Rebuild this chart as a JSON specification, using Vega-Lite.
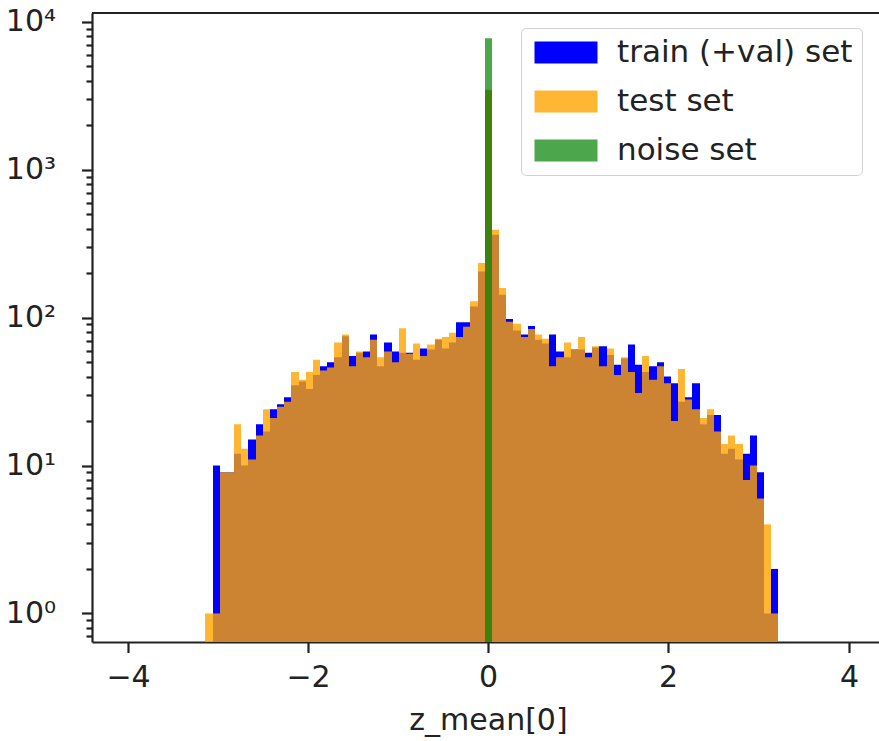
{
"$schema": "https://vega.github.io/schema/vega-lite/v6.json",
"width": 787, "height": 629,
"autosize": {"type": "none"},
"padding": {"left": 92, "top": 13, "right": 0, "bottom": 99},
"background": "white",
"config": {"view": {"stroke": null}, "font": "DejaVu Sans"},
"layer": [
{
"data": {"values": [
{"s":"train (+val) set","a":-3.0608,"b":-2.9813,"n":10},
{"s":"train (+val) set","a":-2.9813,"b":-2.9018,"n":9},
{"s":"train (+val) set","a":-2.9018,"b":-2.8223,"n":9},
{"s":"train (+val) set","a":-2.8223,"b":-2.7428,"n":12},
{"s":"train (+val) set","a":-2.7428,"b":-2.6633,"n":10},
{"s":"train (+val) set","a":-2.6633,"b":-2.5838,"n":15},
{"s":"train (+val) set","a":-2.5838,"b":-2.5043,"n":19},
{"s":"train (+val) set","a":-2.5043,"b":-2.4248,"n":17},
{"s":"train (+val) set","a":-2.4248,"b":-2.3453,"n":24},
{"s":"train (+val) set","a":-2.3453,"b":-2.2658,"n":26},
{"s":"train (+val) set","a":-2.2658,"b":-2.1863,"n":29},
{"s":"train (+val) set","a":-2.1863,"b":-2.1068,"n":35},
{"s":"train (+val) set","a":-2.1068,"b":-2.0273,"n":37},
{"s":"train (+val) set","a":-2.0273,"b":-1.9478,"n":33},
{"s":"train (+val) set","a":-1.9478,"b":-1.8683,"n":41},
{"s":"train (+val) set","a":-1.8683,"b":-1.7888,"n":47},
{"s":"train (+val) set","a":-1.7888,"b":-1.7093,"n":50},
{"s":"train (+val) set","a":-1.7093,"b":-1.6298,"n":54},
{"s":"train (+val) set","a":-1.6298,"b":-1.5503,"n":75},
{"s":"train (+val) set","a":-1.5503,"b":-1.4708,"n":55},
{"s":"train (+val) set","a":-1.4708,"b":-1.3913,"n":58},
{"s":"train (+val) set","a":-1.3913,"b":-1.3118,"n":59},
{"s":"train (+val) set","a":-1.3118,"b":-1.2323,"n":77},
{"s":"train (+val) set","a":-1.2323,"b":-1.1528,"n":47},
{"s":"train (+val) set","a":-1.1528,"b":-1.0733,"n":68},
{"s":"train (+val) set","a":-1.0733,"b":-0.9938,"n":59},
{"s":"train (+val) set","a":-0.9938,"b":-0.9143,"n":58},
{"s":"train (+val) set","a":-0.9143,"b":-0.8348,"n":58},
{"s":"train (+val) set","a":-0.8348,"b":-0.7553,"n":52},
{"s":"train (+val) set","a":-0.7553,"b":-0.6758,"n":62},
{"s":"train (+val) set","a":-0.6758,"b":-0.5963,"n":61},
{"s":"train (+val) set","a":-0.5963,"b":-0.5168,"n":71},
{"s":"train (+val) set","a":-0.5168,"b":-0.4373,"n":62},
{"s":"train (+val) set","a":-0.4373,"b":-0.3578,"n":68},
{"s":"train (+val) set","a":-0.3578,"b":-0.2783,"n":93},
{"s":"train (+val) set","a":-0.2783,"b":-0.1988,"n":93},
{"s":"train (+val) set","a":-0.1988,"b":-0.1193,"n":119},
{"s":"train (+val) set","a":-0.1193,"b":-0.0398,"n":205},
{"s":"train (+val) set","a":-0.0398,"b":0.0398,"n":3450},
{"s":"train (+val) set","a":0.0398,"b":0.1193,"n":364},
{"s":"train (+val) set","a":0.1193,"b":0.1988,"n":143},
{"s":"train (+val) set","a":0.1988,"b":0.2783,"n":98},
{"s":"train (+val) set","a":0.2783,"b":0.3578,"n":82},
{"s":"train (+val) set","a":0.3578,"b":0.4373,"n":77},
{"s":"train (+val) set","a":0.4373,"b":0.5168,"n":88},
{"s":"train (+val) set","a":0.5168,"b":0.5963,"n":71},
{"s":"train (+val) set","a":0.5963,"b":0.6758,"n":67},
{"s":"train (+val) set","a":0.6758,"b":0.7553,"n":77},
{"s":"train (+val) set","a":0.7553,"b":0.8348,"n":59},
{"s":"train (+val) set","a":0.8348,"b":0.9143,"n":54},
{"s":"train (+val) set","a":0.9143,"b":0.9938,"n":61},
{"s":"train (+val) set","a":0.9938,"b":1.0733,"n":61},
{"s":"train (+val) set","a":1.0733,"b":1.1528,"n":58},
{"s":"train (+val) set","a":1.1528,"b":1.2323,"n":63},
{"s":"train (+val) set","a":1.2323,"b":1.3118,"n":64},
{"s":"train (+val) set","a":1.3118,"b":1.3913,"n":56},
{"s":"train (+val) set","a":1.3913,"b":1.4708,"n":48},
{"s":"train (+val) set","a":1.4708,"b":1.5503,"n":53},
{"s":"train (+val) set","a":1.5503,"b":1.6298,"n":66},
{"s":"train (+val) set","a":1.6298,"b":1.7093,"n":48},
{"s":"train (+val) set","a":1.7093,"b":1.7888,"n":43},
{"s":"train (+val) set","a":1.7888,"b":1.8683,"n":47},
{"s":"train (+val) set","a":1.8683,"b":1.9478,"n":50},
{"s":"train (+val) set","a":1.9478,"b":2.0273,"n":40},
{"s":"train (+val) set","a":2.0273,"b":2.1068,"n":36},
{"s":"train (+val) set","a":2.1068,"b":2.1863,"n":27},
{"s":"train (+val) set","a":2.1863,"b":2.2658,"n":29},
{"s":"train (+val) set","a":2.2658,"b":2.3453,"n":36},
{"s":"train (+val) set","a":2.3453,"b":2.4248,"n":19},
{"s":"train (+val) set","a":2.4248,"b":2.5043,"n":22},
{"s":"train (+val) set","a":2.5043,"b":2.5838,"n":22},
{"s":"train (+val) set","a":2.5838,"b":2.6633,"n":12},
{"s":"train (+val) set","a":2.6633,"b":2.7428,"n":13},
{"s":"train (+val) set","a":2.7428,"b":2.8223,"n":11},
{"s":"train (+val) set","a":2.8223,"b":2.9018,"n":12},
{"s":"train (+val) set","a":2.9018,"b":2.9813,"n":16},
{"s":"train (+val) set","a":2.9813,"b":3.0608,"n":9},
{"s":"train (+val) set","a":3.0608,"b":3.1403,"n":1},
{"s":"train (+val) set","a":3.1403,"b":3.2198,"n":2},
{"s":"test set","a":-3.1403,"b":-3.0608,"n":1},
{"s":"test set","a":-3.0608,"b":-2.9813,"n":1},
{"s":"test set","a":-2.9813,"b":-2.9018,"n":9},
{"s":"test set","a":-2.9018,"b":-2.8223,"n":9},
{"s":"test set","a":-2.8223,"b":-2.7428,"n":19},
{"s":"test set","a":-2.7428,"b":-2.6633,"n":13},
{"s":"test set","a":-2.6633,"b":-2.5838,"n":11},
{"s":"test set","a":-2.5838,"b":-2.5043,"n":16},
{"s":"test set","a":-2.5043,"b":-2.4248,"n":24},
{"s":"test set","a":-2.4248,"b":-2.3453,"n":21},
{"s":"test set","a":-2.3453,"b":-2.2658,"n":25},
{"s":"test set","a":-2.2658,"b":-2.1863,"n":27},
{"s":"test set","a":-2.1863,"b":-2.1068,"n":43},
{"s":"test set","a":-2.1068,"b":-2.0273,"n":38},
{"s":"test set","a":-2.0273,"b":-1.9478,"n":43},
{"s":"test set","a":-1.9478,"b":-1.8683,"n":52},
{"s":"test set","a":-1.8683,"b":-1.7888,"n":44},
{"s":"test set","a":-1.7888,"b":-1.7093,"n":46},
{"s":"test set","a":-1.7093,"b":-1.6298,"n":68},
{"s":"test set","a":-1.6298,"b":-1.5503,"n":77},
{"s":"test set","a":-1.5503,"b":-1.4708,"n":47},
{"s":"test set","a":-1.4708,"b":-1.3913,"n":59},
{"s":"test set","a":-1.3913,"b":-1.3118,"n":54},
{"s":"test set","a":-1.3118,"b":-1.2323,"n":71},
{"s":"test set","a":-1.2323,"b":-1.1528,"n":54},
{"s":"test set","a":-1.1528,"b":-1.0733,"n":59},
{"s":"test set","a":-1.0733,"b":-0.9938,"n":50},
{"s":"test set","a":-0.9938,"b":-0.9143,"n":85},
{"s":"test set","a":-0.9143,"b":-0.8348,"n":57},
{"s":"test set","a":-0.8348,"b":-0.7553,"n":67},
{"s":"test set","a":-0.7553,"b":-0.6758,"n":55},
{"s":"test set","a":-0.6758,"b":-0.5963,"n":66},
{"s":"test set","a":-0.5963,"b":-0.5168,"n":72},
{"s":"test set","a":-0.5168,"b":-0.4373,"n":74},
{"s":"test set","a":-0.4373,"b":-0.3578,"n":79},
{"s":"test set","a":-0.3578,"b":-0.2783,"n":74},
{"s":"test set","a":-0.2783,"b":-0.1988,"n":87},
{"s":"test set","a":-0.1988,"b":-0.1193,"n":129},
{"s":"test set","a":-0.1193,"b":-0.0398,"n":234},
{"s":"test set","a":-0.0398,"b":0.0398,"n":3480},
{"s":"test set","a":0.0398,"b":0.1193,"n":393},
{"s":"test set","a":0.1193,"b":0.1988,"n":159},
{"s":"test set","a":0.1988,"b":0.2783,"n":94},
{"s":"test set","a":0.2783,"b":0.3578,"n":91},
{"s":"test set","a":0.3578,"b":0.4373,"n":74},
{"s":"test set","a":0.4373,"b":0.5168,"n":84},
{"s":"test set","a":0.5168,"b":0.5963,"n":77},
{"s":"test set","a":0.5963,"b":0.6758,"n":72},
{"s":"test set","a":0.6758,"b":0.7553,"n":47},
{"s":"test set","a":0.7553,"b":0.8348,"n":54},
{"s":"test set","a":0.8348,"b":0.9143,"n":68},
{"s":"test set","a":0.9143,"b":0.9938,"n":61},
{"s":"test set","a":0.9938,"b":1.0733,"n":74},
{"s":"test set","a":1.0733,"b":1.1528,"n":54},
{"s":"test set","a":1.1528,"b":1.2323,"n":64},
{"s":"test set","a":1.2323,"b":1.3118,"n":47},
{"s":"test set","a":1.3118,"b":1.3913,"n":62},
{"s":"test set","a":1.3913,"b":1.4708,"n":41},
{"s":"test set","a":1.4708,"b":1.5503,"n":54},
{"s":"test set","a":1.5503,"b":1.6298,"n":43},
{"s":"test set","a":1.6298,"b":1.7093,"n":31},
{"s":"test set","a":1.7093,"b":1.7888,"n":55},
{"s":"test set","a":1.7888,"b":1.8683,"n":38},
{"s":"test set","a":1.8683,"b":1.9478,"n":47},
{"s":"test set","a":1.9478,"b":2.0273,"n":36},
{"s":"test set","a":2.0273,"b":2.1068,"n":20},
{"s":"test set","a":2.1068,"b":2.1863,"n":45},
{"s":"test set","a":2.1863,"b":2.2658,"n":28},
{"s":"test set","a":2.2658,"b":2.3453,"n":24},
{"s":"test set","a":2.3453,"b":2.4248,"n":21},
{"s":"test set","a":2.4248,"b":2.5043,"n":24},
{"s":"test set","a":2.5043,"b":2.5838,"n":17},
{"s":"test set","a":2.5838,"b":2.6633,"n":14},
{"s":"test set","a":2.6633,"b":2.7428,"n":16},
{"s":"test set","a":2.7428,"b":2.8223,"n":14},
{"s":"test set","a":2.8223,"b":2.9018,"n":8},
{"s":"test set","a":2.9018,"b":2.9813,"n":10},
{"s":"test set","a":2.9813,"b":3.0608,"n":6},
{"s":"test set","a":3.0608,"b":3.1403,"n":4},
{"s":"test set","a":3.1403,"b":3.2198,"n":1},
{"s":"noise set","a":-0.0398,"b":0.0398,"n":7750}
]},
"mark": {"type": "bar", "clip": true},
"encoding": {
"x": {"field": "a", "type": "quantitative",
 "scale": {"domain": [-4.4, 4.337], "nice": false, "zero": false, "round": true},
 "axis": {"values": [-4, -2, 0, 2, 4], "labelExpr": "datum.value < 0 ? '\u2212' + abs(datum.value) : '' + datum.value",
  "grid": false, "tickSize": 10.5, "tickWidth": 2.2, "tickColor": "#222", "domainColor": "#222", "domainWidth": 2.2,
  "labelFontSize": 30, "labelColor": "#222", "labelPadding": 10, "labelFont": "DejaVu Sans",
  "title": "z_mean[0]", "titleFontSize": 30, "titleFontWeight": "normal", "titleColor": "#222", "titleFont": "DejaVu Sans",
  "titleBaseline": "alphabetic", "titleY": 87, "titleX": 396, "titleAlign": "center"}},
"x2": {"field": "b"},
"y": {"field": "n", "type": "quantitative",
 "scale": {"type": "log", "domain": [0.641, 11500], "nice": false},
 "axis": {"values": [0.7,0.8,0.9,1,2,3,4,5,6,7,8,9,10,20,30,40,50,60,70,80,90,100,200,300,400,500,600,700,800,900,1000,2000,3000,4000,5000,6000,7000,8000,9000,10000],
  "labelExpr": "datum.value == 1 ? '10\u2070' : datum.value == 10 ? '10\u00b9' : datum.value == 100 ? '10\u00b2' : datum.value == 1000 ? '10\u00b3' : datum.value == 10000 ? '10\u2074' : ''",
  "grid": false,
  "tickSize": {"condition": {"test": "indexof([1,10,100,1000,10000], datum.value) >= 0", "value": 10.5}, "value": 6},
  "tickWidth": 2.2, "tickColor": "#222", "domainColor": "#222", "domainWidth": 2.2,
  "labelFontSize": 30, "labelColor": "#222", "labelPadding": 26, "labelFont": "DejaVu Sans", "title": null}},
"y2": {"datum": 0.641},
"color": {"field": "s", "type": "nominal",
 "scale": {"domain": ["train (+val) set", "pad", "test set", "noise set"], "range": ["#0000ff", "#ffffff", "#ffa500", "#008000"]},
 "legend": {"title": null, "orient": "none", "legendX": 429, "legendY": 15, "direction": "vertical",
  "values": ["train (+val) set", "test set", "noise set"],
  "symbolType": "M-1,-1H4.727V1H-1Z", "symbolSize": 484, "symbolStrokeWidth": 0,
  "labelFontSize": 31, "labelFont": "DejaVu Sans", "labelColor": "#222", "labelOffset": 56, "labelLimit": 500,
  "rowPadding": 17, "padding": 9, "strokeColor": "#d0d0d0", "fillColor": "rgba(255,255,255,0.8)", "cornerRadius": 5}},
"opacity": {"field": "s", "type": "nominal",
 "scale": {"type": "point", "domain": ["train (+val) set", "pad", "test set", "noise set"], "range": [1, 0.7], "padding": 0},
 "legend": {"title": null, "orient": "none", "legendX": 429, "legendY": 15, "direction": "vertical",
  "values": ["train (+val) set", "test set", "noise set"],
  "symbolType": "M-1,-1H4.727V1H-1Z", "symbolSize": 484, "symbolStrokeWidth": 0,
  "labelFontSize": 31, "labelFont": "DejaVu Sans", "labelColor": "#222", "labelOffset": 56, "labelLimit": 500,
  "rowPadding": 17, "padding": 9, "strokeColor": "#d0d0d0", "fillColor": "rgba(255,255,255,0.8)", "cornerRadius": 5}}
}
},
{
"data": {"values": [{}]},
"mark": {"type": "rule", "color": "#222", "strokeWidth": 2.2},
"encoding": {"y": {"datum": 11500, "type": "quantitative"}}
}
]
}
